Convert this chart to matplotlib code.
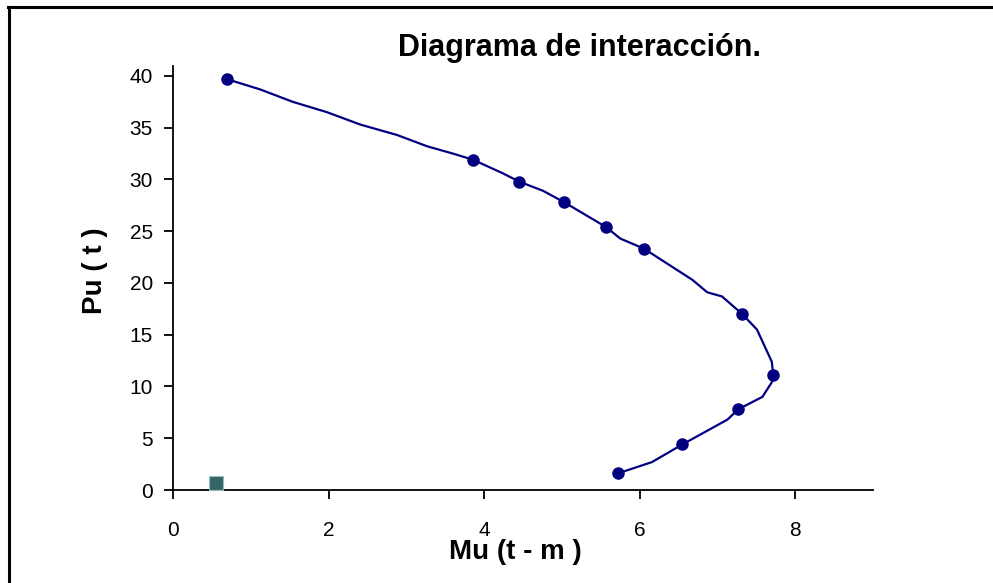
import numpy as np
import matplotlib.pyplot as plt
from matplotlib.lines import Line2D

plt.rcParams['font.family'] = ['Liberation Sans', 'DejaVu Sans']

# curva (linea suavizada) Mu - Pu
mu_line = [0.69, 1.12, 1.54, 1.98, 2.41, 2.88, 3.27, 3.60, 3.86, 4.24, 4.45, 4.76,
           5.03, 5.57, 5.75, 6.06, 6.68, 6.87, 7.06, 7.32, 7.51, 7.70, 7.72, 7.70,
           7.58, 7.27, 7.13, 6.55, 6.16, 5.72]
pu_line = [39.7, 38.7, 37.5, 36.5, 35.3, 34.3, 33.2, 32.5, 31.9, 30.6, 29.8, 28.9,
           27.8, 25.4, 24.3, 23.3, 20.3, 19.1, 18.7, 17.0, 15.5, 12.4, 11.1, 10.4,
           9.0, 7.8, 6.8, 4.4, 2.7, 1.6]

# puntos del diagrama
mu_pts = [0.69, 3.86, 4.45, 5.03, 5.57, 6.06, 7.32, 7.72, 7.27, 6.55, 5.72]
pu_pts = [39.7, 31.9, 29.8, 27.8, 25.4, 23.3, 17.0, 11.1, 7.8, 4.4, 1.6]

# punto de carga actuante
mu_act = [0.55]
pu_act = [0.7]

fig = plt.figure(figsize=(9.93, 5.83), dpi=100)
ax = fig.add_axes([0.1742, 0.1595, 0.7048, 0.728])

ax.plot(mu_line, pu_line, color='#000080', lw=1.6, zorder=2)
ax.plot(mu_pts, pu_pts, 'o', color='#000080', ms=8, zorder=3)
ax.plot(mu_act, pu_act, 's', color='#336666', mec='#99bbbb', mew=0.8, ms=9.5, zorder=4,
        clip_on=False)

ax.set_xlim(0, 9)
ax.set_ylim(0, 41)
ax.set_xticks([0, 2, 4, 6, 8])
ax.set_yticks(np.arange(0, 41, 5))
ax.tick_params(direction='out', length=6.5, width=1.3, labelsize=15)
ax.tick_params(axis='x', pad=16)
ax.tick_params(axis='y', pad=8)

for s in ['top', 'right']:
    ax.spines[s].set_visible(False)
for s in ['left', 'bottom']:
    ax.spines[s].set_linewidth(1.3)

fig.text(515 / 993, 1 - 552 / 583, 'Mu (t - m )', fontsize=20, fontweight='bold',
         ha='center', va='center')
fig.text(95 / 993, 1 - 271 / 583, 'Pu ( t )', fontsize=20, fontweight='bold',
         ha='center', va='center', rotation=90)
fig.text(580 / 993, 1 - 48 / 583, 'Diagrama de interacción.', fontsize=22,
         fontweight='bold', ha='center', va='center')

# marco del grafico
fig.add_artist(Line2D([0.009, 0.009], [0.0, 0.988], color='black', lw=2.2))
fig.add_artist(Line2D([0.008, 1.0], [0.988, 0.988], color='black', lw=2.2))

fig.savefig('out.png', dpi=100)
